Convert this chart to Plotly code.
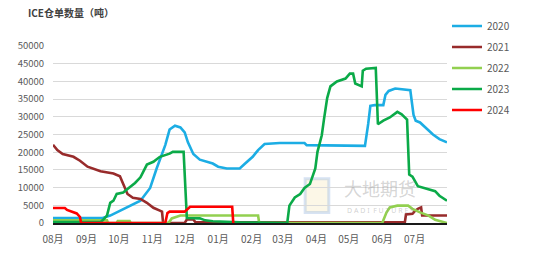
import pandas as pd
import plotly.graph_objects as go

season_start = pd.Timestamp("2023-08-01")
month_labels = ["08月", "09月", "10月", "11月", "12月", "01月",
                "02月", "03月", "04月", "05月", "06月", "07月"]
y_ticks = [0, 5000, 10000, 15000, 20000, 25000, 30000, 35000, 40000, 45000, 50000]

# day offsets from season start (Aug 1) and stock values (tonnes)
days_2020 = [0, 46, 53, 62, 71, 81, 90, 96, 104, 108, 113, 118, 122, 125, 130, 136, 148, 153, 161,
             173, 178, 185, 190, 196, 210, 233, 235, 266, 289, 292, 294, 298, 306, 308, 311, 317,
             331, 334, 336, 340, 345, 352, 358, 365]
vals_2020 = [1400, 1400, 2100, 3500, 4900, 6300, 9900, 15400, 22000, 26400, 27500, 27000, 25600,
             22800, 19500, 17900, 16800, 15900, 15400, 15400, 16800, 18700, 20600, 22300, 22600,
             22600, 22000, 22000, 21800, 28000, 33100, 33300, 33300, 36200, 37300, 38000, 37500,
             30500, 28900, 28400, 27000, 25000, 23700, 22800]

days_2021 = [0, 4, 9, 19, 25, 32, 44, 56, 62, 65, 69, 74, 81, 87, 93, 99, 101, 102, 122, 124, 130,
             132, 263, 326, 327, 333, 335, 338, 341, 342, 365]
vals_2021 = [22100, 20600, 19500, 18700, 17600, 15900, 14600, 14000, 13200, 11000, 8200, 7100,
             6800, 5700, 4300, 3500, 3200, 0, 0, 1000, 1000, 200, 300, 300, 2400, 2600, 3300, 4000,
             4400, 2100, 2100]

days_2022 = [0, 50, 51, 59, 60, 71, 72, 107, 110, 114, 118, 190, 191, 305, 309, 312, 319, 329,
             333, 340, 348, 354, 360, 365]
vals_2022 = [750, 750, 0, 0, 550, 550, 0, 0, 1300, 1700, 2100, 2100, 0, 0, 3000, 4400, 4900, 4900,
             4000, 3000, 2100, 900, 300, 0]

days_2023 = [0, 44, 46, 50, 53, 56, 59, 65, 69, 76, 81, 87, 93, 99, 108, 111, 120, 121, 124, 132,
             136, 141, 148, 173, 217, 219, 224, 229, 233, 238, 243, 245, 249, 251, 254, 257, 263,
             271, 275, 278, 280, 286, 287, 290, 299, 301, 306, 312, 319, 323, 328, 330, 333, 338,
             346, 354, 358, 365]
vals_2023 = [300, 300, 750, 2100, 5700, 6300, 8200, 8600, 9600, 11300, 12900, 16500, 17300, 18700,
             19600, 20100, 20100, 20100, 1400, 1400, 1300, 750, 500, 200, 0, 4900, 7200, 8200, 9900,
             11000, 15400, 20100, 24800, 29200, 35300, 38600, 40000, 40800, 42200, 42200, 39400,
             38600, 43000, 43600, 43800, 27900, 28900, 29800, 31400, 30700, 29200, 13700, 13100,
             10400, 9600, 9000, 7700, 6300]

days_2024 = [0, 11, 13, 19, 22, 25, 26, 104, 106, 108, 122, 127, 166, 167]
vals_2024 = [4250, 4250, 3700, 3000, 2700, 1700, 0, 0, 2800, 3200, 3200, 4600, 4600, 0]

series_names = ["2020", "2021", "2022", "2023", "2024"]
series_days = [days_2020, days_2021, days_2022, days_2023, days_2024]
series_vals = [vals_2020, vals_2021, vals_2022, vals_2023, vals_2024]
series_colors = ["#1CADE4", "#982B2B", "#92D050", "#0BAA48", "#FF0000"]

fig = go.Figure()
for name, d, v, c in zip(series_names, series_days, series_vals, series_colors):
    dates = season_start + pd.to_timedelta(d, unit="D")
    fig.add_trace(go.Scatter(x=dates, y=v, mode="lines", name=name, legendgroup=name,
                             line=dict(color=c, width=2.6)))

month_ticks = pd.date_range(season_start, periods=12, freq="MS")

fig.update_layout(
    width=550, height=272,
    margin=dict(l=53, r=103, t=41.7, b=49.3),
    paper_bgcolor="white", plot_bgcolor="white",
    font=dict(family="Noto Sans CJK SC, Noto Sans, sans-serif", color="#595959", size=10),
    showlegend=True,
    legend=dict(x=1.0, y=1.195, xanchor="left", yanchor="top",
                font=dict(size=10, color="#595959"), tracegroupgap=2,
                itemwidth=30, bgcolor="rgba(0,0,0,0)"),
    xaxis=dict(type="date", range=[season_start, season_start + pd.Timedelta(days=365)],
               tickvals=month_ticks, ticktext=month_labels, showgrid=False,
               showline=True, linecolor="#1a1a1a", linewidth=2, ticks="",
               tickfont=dict(size=10, color="#595959"), ticklabelstandoff=6),
    yaxis=dict(range=[0, 50000], tickvals=y_ticks, tickformat="d", showgrid=True,
               gridcolor="#D9D9D9", gridwidth=1, zeroline=False, showline=False, ticks="",
               tickfont=dict(size=9.5, color="#595959"), ticklabelstandoff=8),
    annotations=[
        dict(text="<b>ICE仓单数量（吨）</b>", xref="paper", yref="paper", x=-0.068, y=1.19,
             xanchor="left", yanchor="middle", showarrow=False,
             font=dict(size=10, color="#404040", family="Noto Sans CJK SC")),
        dict(text="大地期货", xref="paper", yref="paper", x=0.83, y=0.195,
             xanchor="center", yanchor="middle", showarrow=False,
             font=dict(size=18, color="rgba(150,150,150,0.40)", family="Noto Sans CJK SC")),
        dict(text="D A D I  F U T U R E S", xref="paper", yref="paper", x=0.83, y=0.068,
             xanchor="center", yanchor="middle", showarrow=False,
             font=dict(size=7, color="rgba(150,150,150,0.45)", family="Noto Sans")),
    ],
    shapes=[
        dict(type="rect", xref="paper", yref="paper", x0=0.64, x1=0.70, y0=0.06, y1=0.25,
             line=dict(color="rgba(140,175,220,0.35)", width=3),
             fillcolor="rgba(245,225,160,0.25)", layer="below"),
    ],
)

fig.write_html("out.html")
